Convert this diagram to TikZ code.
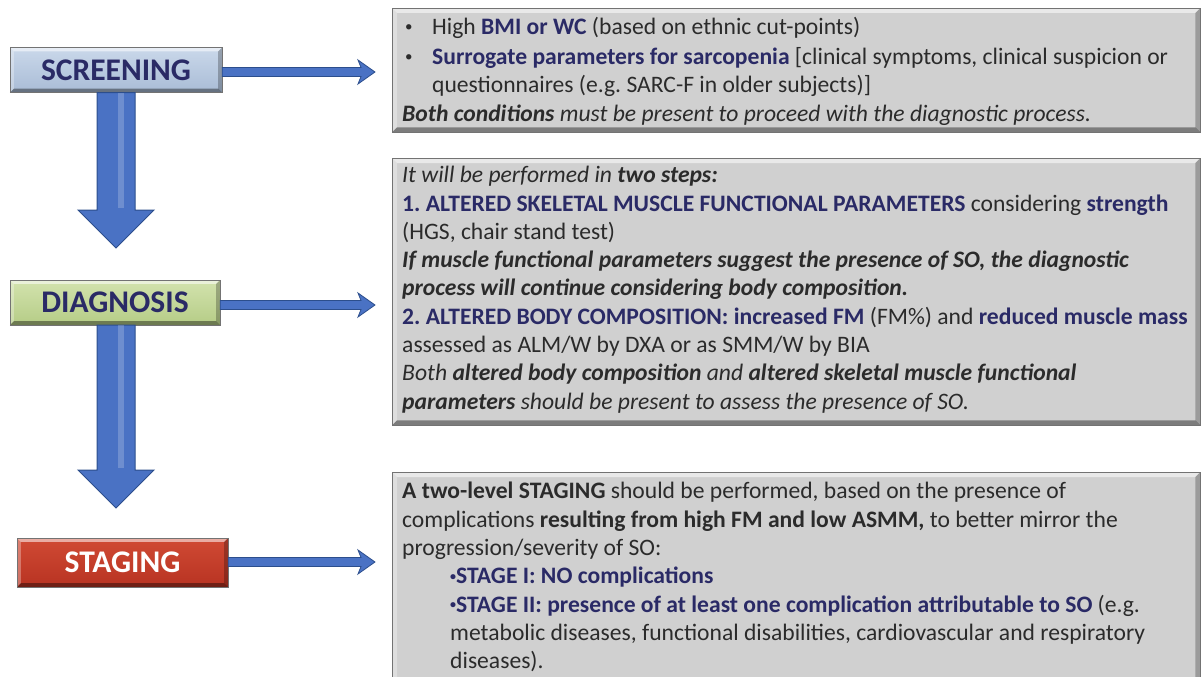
\documentclass[tikz,border=0pt]{standalone}
\usepackage{fontspec}
\setmainfont{Carlito}
\usetikzlibrary{calc}
\frenchspacing
\definecolor{navy}{HTML}{2A2A66}
\definecolor{bodytxt}{HTML}{2B2B2B}
\definecolor{boxgray}{HTML}{D0D0D0}
\definecolor{arrblue}{HTML}{4A72C4}
\definecolor{arrdark}{HTML}{2C4E8C}
\definecolor{scrtop}{HTML}{CAD8EA}
\definecolor{scrbot}{HTML}{A9BCD6}
\definecolor{diatop}{HTML}{D3E3AE}
\definecolor{diabot}{HTML}{B5CC86}
\definecolor{statop}{HTML}{D04A34}
\definecolor{stabot}{HTML}{B83322}
\newcommand\nb[1]{\textcolor{navy}{\textbf{#1}}}
\newcommand\smbul{\raisebox{3pt}{\fontsize{15}{15}\selectfont•}}
\newcommand\tinybul{\raisebox{3.5pt}{\fontsize{12}{12}\selectfont•}}
\newcommand\mybevel[2]{%
 \fill[white,opacity=.55] (#1.north west) -- (#1.north east) -- ([shift={(-#2,#2)}]#1.north east) -- ([shift={(#2,#2)}]#1.north west) -- cycle;
 \fill[white,opacity=.3] (#1.north west) -- ([shift={(#2,#2)}]#1.north west) -- ([shift={(#2,-#2)}]#1.south west) -- (#1.south west) -- cycle;
 \fill[black,opacity=.4] (#1.south west) -- (#1.south east) -- ([shift={(-#2,-#2)}]#1.south east) -- ([shift={(#2,-#2)}]#1.south west) -- cycle;
 \fill[black,opacity=.25] (#1.north east) -- ([shift={(-#2,#2)}]#1.north east) -- ([shift={(-#2,-#2)}]#1.south east) -- (#1.south east) -- cycle;
 \draw[black!55,line width=0.6pt] (#1.north west) rectangle (#1.south east);
}
\tikzset{
 stage/.style={anchor=center, inner sep=0pt, font={\fontsize{31.5}{33}\selectfont\bfseries}},
 graybox/.style={anchor=north west, inner sep=0pt, fill=boxgray},
 boxtext/.style={anchor=west, align=left, inner sep=0pt, text=bodytxt, font={\fontsize{23.6}{28.3}\selectfont}},
 blockarrow/.style={fill=arrblue, draw=arrdark, line width=1pt, line join=miter},
}
\begin{document}
\begin{tikzpicture}[x=1pt,y=-1pt]
\useasboundingbox (0,0) rectangle (1202,677);
% left stage boxes
\node[stage, minimum width=212pt, minimum height=45pt, top color=scrtop, bottom color=scrbot, text=navy] (scr) at (116,70) {SCREENING};
\node[stage, minimum width=210pt, minimum height=45pt, top color=diatop, bottom color=diabot, text=navy] (dia) at (115,302.5) {DIAGNOSIS};
\node[stage, minimum width=211pt, minimum height=49pt, top color=statop, bottom color=stabot, text=white] (sta) at (122.5,562.5) {STAGING};
\mybevel{scr}{4}
\mybevel{dia}{4}
\mybevel{sta}{4}
% right gray boxes
\node[graybox, minimum width=808pt, minimum height=124pt] (b1) at (392,8) {};
\node[graybox, minimum width=808pt, minimum height=267pt] (b2) at (392,158) {};
\node[graybox, minimum width=808pt, minimum height=210pt] (b3) at (392,472) {};
\mybevel{b1}{5}
\mybevel{b2}{5}
\mybevel{b3}{5}
% texts
\node[boxtext] (t1) at ([xshift=10pt,yshift=-1pt]b1.west) {%
\makebox[30pt][l]{\hspace{3pt}\smbul}High \nb{BMI or WC} (based on ethnic cut-points)\\[2pt]
\makebox[30pt][l]{\hspace{3pt}\smbul}\nb{Surrogate parameters for sarcopenia} [clinical symptoms, clinical suspicion or\\
\hspace*{30pt}questionnaires (e.g. SARC-F in older subjects)]\\
\textbf{\textit{Both conditions}} \textit{must be present to proceed with the diagnostic process.}};
\node[boxtext] (t2) at ([xshift=10pt,yshift=2pt]b2.west) {%
\textit{It will be performed in \textbf{two steps:}}\\
\nb{1. ALTERED SKELETAL MUSCLE FUNCTIONAL PARAMETERS} considering \nb{strength}\\
(HGS, chair stand test)\\
\textbf{\textit{If muscle functional parameters suggest the presence of SO, the diagnostic}}\\
\textbf{\textit{process will continue considering body composition.}}\\
\nb{2. ALTERED BODY COMPOSITION: increased FM} (FM\%) and \nb{reduced muscle mass}\\
assessed as ALM/W by DXA or as SMM/W by BIA\\
\textit{Both \textbf{altered body composition} and \textbf{altered skeletal muscle functional}}\\
\textit{\textbf{parameters} should be present to assess the presence of SO.}};
\node[boxtext] (t3) at ([xshift=10pt]b3.west) {%
\textbf{A two-level STAGING} should be performed, based on the presence of\\
complications \textbf{resulting from high FM and low ASMM,} to better mirror the\\
progression/severity of SO:\\
\hspace*{48pt}\nb{\tinybul STAGE I: NO complications}\\
\hspace*{48pt}\nb{\tinybul STAGE II: presence of at least one complication attributable to SO} (e.g.\\
\hspace*{48pt}metabolic diseases, functional disabilities, cardiovascular and respiratory\\
\hspace*{48pt}diseases).};
% big down arrows
\coordinate (a1tip) at (116,248);
\coordinate (a2tip) at (116,508);
\path[blockarrow] ([xshift=-19pt]scr.south -| a1tip) -- ([xshift=19pt]scr.south -| a1tip) -- ($(a1tip)+(19,-38)$) -- ($(a1tip)+(38,-38)$) -- (a1tip) -- ($(a1tip)+(-38,-38)$) -- ($(a1tip)+(-19,-38)$) -- cycle;
\path[blockarrow] ([xshift=-19pt]dia.south -| a2tip) -- ([xshift=19pt]dia.south -| a2tip) -- ($(a2tip)+(19,-38)$) -- ($(a2tip)+(38,-38)$) -- (a2tip) -- ($(a2tip)+(-38,-38)$) -- ($(a2tip)+(-19,-38)$) -- cycle;
\fill[white,opacity=.2] ($(scr.south -| a1tip)+(2,0)$) rectangle ($(a1tip)+(8,-40)$);
\fill[white,opacity=.2] ($(dia.south -| a2tip)+(2,0)$) rectangle ($(a2tip)+(8,-40)$);
% side arrows
\coordinate (r1) at (375,72);
\coordinate (r2) at (375,305);
\coordinate (r3) at (375,562);
\foreach \s/\r in {scr/r1, dia/r2, sta/r3}{
 \path[blockarrow, line width=0.8pt] (\s.east |- \r) ++(0,-4.5) -- ($(\r)+(-14,-4.5)$) -- ($(\r)+(-17,-12)$) -- (\r) -- ($(\r)+(-17,12)$) -- ($(\r)+(-14,4.5)$) -- ($(\s.east |- \r)+(0,4.5)$) -- cycle;
}
\end{tikzpicture}
\end{document}
